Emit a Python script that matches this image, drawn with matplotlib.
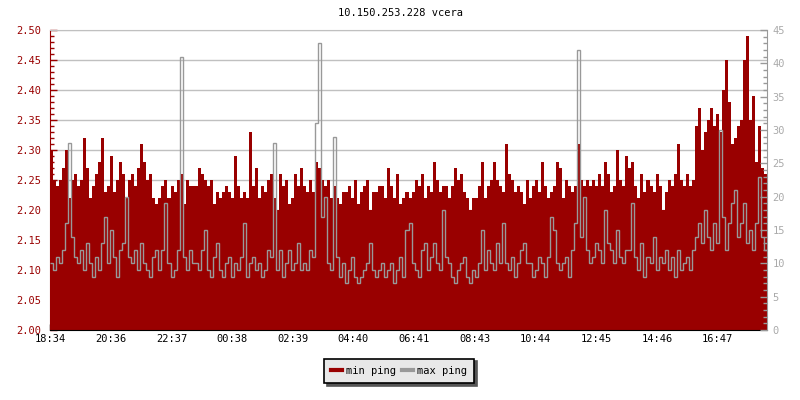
import numpy as np
import matplotlib
matplotlib.use("Agg")
import matplotlib.pyplot as plt
from matplotlib.ticker import MultipleLocator, FixedLocator
from matplotlib.lines import Line2D

title = "10.150.253.228 vcera"
start_label = "18:34"
tick_labels = ["18:34", "20:36", "22:37", "00:38", "02:39", "04:40",
               "06:41", "08:43", "10:44", "12:45", "14:46", "16:47"]
span_minutes = 1432

min_ping = [
    2.30, 2.25, 2.24, 2.25, 2.27, 2.30, 2.22, 2.25, 2.26, 2.24,
    2.25, 2.32, 2.27, 2.22, 2.24, 2.26, 2.28, 2.32, 2.23, 2.24,
    2.29, 2.23, 2.25, 2.28, 2.26, 2.22, 2.25, 2.26, 2.24, 2.27,
    2.31, 2.28, 2.25, 2.26, 2.22, 2.21, 2.22, 2.24, 2.25, 2.22,
    2.24, 2.23, 2.25, 2.26, 2.21, 2.25, 2.24, 2.24,
    2.24, 2.27, 2.26, 2.25, 2.24, 2.25, 2.21, 2.23, 2.22, 2.23,
    2.24, 2.23, 2.22, 2.29, 2.24, 2.22, 2.23, 2.22, 2.33, 2.24,
    2.27, 2.22, 2.24, 2.23, 2.25, 2.26, 2.22, 2.20, 2.26, 2.24,
    2.25, 2.21, 2.22, 2.26, 2.24, 2.27, 2.24, 2.23, 2.25, 2.23,
    2.28, 2.27, 2.25, 2.24, 2.25, 2.22, 2.24, 2.22,
    2.21, 2.23, 2.23, 2.24, 2.22, 2.25, 2.21, 2.23, 2.24, 2.25,
    2.20, 2.23, 2.23, 2.24, 2.24, 2.22, 2.27, 2.24, 2.22, 2.26,
    2.21, 2.22, 2.23, 2.22, 2.23, 2.25, 2.24, 2.26, 2.22, 2.24,
    2.23, 2.28, 2.25, 2.23, 2.24, 2.24, 2.22, 2.24, 2.27, 2.25,
    2.26, 2.23, 2.22, 2.20, 2.22, 2.22, 2.24, 2.28,
    2.22, 2.24, 2.25, 2.28, 2.25, 2.24, 2.23, 2.31, 2.26, 2.25,
    2.23, 2.24, 2.23, 2.21, 2.25, 2.22, 2.24, 2.25, 2.23, 2.28,
    2.24, 2.22, 2.23, 2.24, 2.28, 2.27, 2.22, 2.25, 2.24, 2.23,
    2.24, 2.31, 2.25, 2.24, 2.25, 2.24, 2.25, 2.24, 2.26, 2.24,
    2.28, 2.26, 2.23, 2.24, 2.30, 2.25, 2.24, 2.29,
    2.27, 2.28, 2.24, 2.22, 2.26, 2.23, 2.25, 2.24, 2.23, 2.26,
    2.24, 2.20, 2.23, 2.25, 2.24, 2.26, 2.31, 2.25, 2.24, 2.26,
    2.24, 2.25, 2.34, 2.37, 2.30, 2.33, 2.35, 2.37, 2.34, 2.36,
    2.33, 2.40, 2.45, 2.38, 2.31, 2.32, 2.34, 2.35, 2.45, 2.49,
    2.35, 2.39, 2.28, 2.34, 2.27, 2.26,
]

max_ping = [
    10, 9, 11, 10, 12, 16, 28, 14, 11, 10,
    12, 9, 13, 10, 8, 11, 9, 13, 17, 10,
    15, 11, 8, 12, 13, 20, 11, 10, 12, 9,
    13, 10, 9, 8, 11, 12, 9, 12, 19, 10,
    8, 9, 12, 41, 11, 9, 12, 10,
    10, 9, 12, 15, 9, 8, 11, 13, 9, 8,
    10, 11, 8, 10, 9, 11, 16, 8, 10, 11,
    9, 10, 8, 9, 12, 11, 28, 9, 12, 8,
    10, 12, 9, 10, 13, 9, 10, 9, 12, 11,
    31, 43, 17, 20, 10, 9, 29, 11,
    8, 10, 7, 9, 11, 8, 7, 8, 9, 10,
    13, 9, 8, 9, 10, 8, 9, 10, 7, 9,
    11, 8, 15, 16, 10, 9, 8, 12, 13, 9,
    11, 13, 10, 9, 18, 11, 10, 8, 7, 9,
    10, 11, 8, 7, 9, 8, 10, 15,
    9, 12, 10, 9, 13, 10, 16, 10, 9, 11,
    8, 10, 12, 13, 10, 10, 8, 9, 11, 10,
    8, 11, 17, 15, 10, 9, 10, 11, 8, 12,
    16, 42, 14, 20, 12, 10, 11, 13, 12, 10,
    18, 13, 12, 10, 15, 11, 10, 12,
    12, 19, 11, 9, 13, 8, 11, 10, 14, 9,
    11, 10, 12, 9, 11, 8, 12, 9, 10, 11,
    9, 12, 14, 16, 13, 18, 14, 12, 16, 13,
    30, 17, 12, 16, 19, 21, 14, 16, 19, 13,
    15, 12, 16, 23, 14, 12,
]

RED = "#990000"
GRAY = "#999999"
FONT = "DejaVu Sans Mono"
plt.rcParams["font.family"] = FONT
plt.rcParams["font.size"] = 7.5


def minutes_from_start(lbl):
    h, m = map(int, lbl.split(":"))
    sh, sm = map(int, start_label.split(":"))
    d = (h * 60 + m) - (sh * 60 + sm)
    return d + 1440 if d < 0 else d


n = len(min_ping)
edges = np.linspace(0, span_minutes, n + 1)

fig = plt.figure(figsize=(8, 4), dpi=100)
ax = fig.add_axes([50 / 800, 70 / 400, 717 / 800, 300 / 400])
ax.set_axisbelow(True)
ax.stairs(min_ping, edges, baseline=2.0, fill=True, color=RED, lw=0)
ax.set_xlim(0, span_minutes)
ax.set_ylim(2.0, 2.5)
ax.yaxis.set_major_locator(MultipleLocator(0.05))
ax.yaxis.set_minor_locator(MultipleLocator(0.01))
ax.yaxis.set_major_formatter(matplotlib.ticker.FormatStrFormatter("%.2f"))
ax.grid(axis="y", which="major", color="#c0c0c0", lw=1)
ax.xaxis.set_major_locator(FixedLocator([minutes_from_start(t) for t in tick_labels]))
ax.set_xticklabels(tick_labels)
ax.tick_params(axis="x", direction="in", length=4, width=1, color="black",
               labelcolor="black", pad=3)
ax.tick_params(axis="y", which="major", direction="in", length=5, width=1,
               color=RED, labelcolor=RED, pad=6)
ax.tick_params(axis="y", which="minor", direction="in", length=3, width=1, color=RED)
ax.spines["left"].set_color(RED)
ax.spines["bottom"].set_color("black")
ax.spines["top"].set_color("#c0c0c0")
ax.spines["right"].set_visible(False)

ax2 = ax.twinx()
ax2.stairs(max_ping, edges, baseline=None, color=GRAY, lw=1.0)
ax2.set_ylim(0, 45)
ax2.yaxis.set_major_locator(MultipleLocator(5))
ax2.yaxis.set_minor_locator(MultipleLocator(1))
ax2.tick_params(axis="y", which="major", direction="in", length=5, width=1,
                color=GRAY, labelcolor="#aaaaaa", pad=4)
ax2.tick_params(axis="y", which="minor", direction="in", length=3, width=1, color=GRAY)
ax2.spines["right"].set_color(GRAY)
for s in ("left", "top", "bottom"):
    ax2.spines[s].set_visible(False)

fig.text(0.5, 1 - 13 / 400, title, ha="center", va="center", color="black")

handles = [Line2D([], [], color=RED, lw=3), Line2D([], [], color=GRAY, lw=3)]
leg = fig.legend(handles, ["min ping", "max ping"], loc="center",
                 bbox_to_anchor=(399 / 800, 1 - 371 / 400), ncol=2,
                 frameon=True, fancybox=False, shadow={"color": "#555555", "alpha": 1},
                 handlelength=1.0, handletextpad=0.4, columnspacing=0.6,
                 borderpad=0.7, edgecolor="black", facecolor="#e8e8e8", framealpha=1)
leg.get_frame().set_linewidth(1.2)

fig.savefig("out.png", dpi=100)
